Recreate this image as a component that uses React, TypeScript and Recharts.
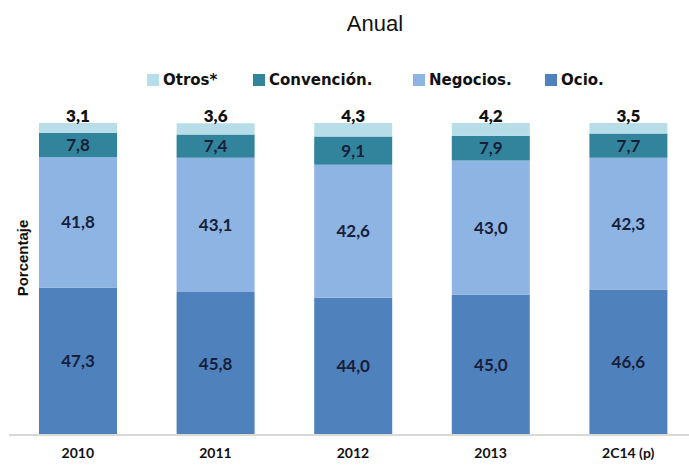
import { BarChart, Bar, XAxis, YAxis, LabelList } from "recharts";

const years = ["2010", "2011", "2012", "2013", "2C14 (p)"];
const ocio = [47.3, 45.8, 44.0, 45.0, 46.6];
const negocios = [41.8, 43.1, 42.6, 43.0, 42.3];
const convencion = [7.8, 7.4, 9.1, 7.9, 7.7];
const otros = [3.1, 3.6, 4.3, 4.2, 3.5];

const legendItems = [
  { name: "Otros*", color: "#B7DEE8", x: 147 },
  { name: "Convención.", color: "#31849B", x: 253 },
  { name: "Negocios.", color: "#8DB4E2", x: 413 },
  { name: "Ocio.", color: "#4F81BD", x: 545 },
];

const data = years.map((y, i) => ({
  year: y,
  ocio: ocio[i],
  negocios: negocios[i],
  convencion: convencion[i],
  otros: otros[i],
}));

const fmt = (v: unknown) => Number(v).toFixed(1).replace(".", ",");
const font = "Lato, 'Open Sans', sans-serif";
const labelStyle = { fontSize: 17, fontWeight: 700, fill: "#17203a", fontFamily: font };

export default function App() {
  return (
    <div style={{ position: "absolute", left: 0, top: 0, width: 689, height: 467, background: "#fff", overflow: "hidden" }}>
      <div style={{ position: "absolute", left: 0, top: 11, width: 750, textAlign: "center", fontFamily: "'Liberation Sans', Arial, sans-serif", fontSize: 22, color: "#111" }}>
        Anual
      </div>
      {legendItems.map((it) => (
        <div key={it.name} style={{ position: "absolute", left: it.x, top: 70, height: 20, display: "flex", alignItems: "center", fontFamily: "'DejaVu Sans', sans-serif", fontWeight: 700, fontSize: 15, color: "#111", whiteSpace: "nowrap" }}>
          <span style={{ width: 12, height: 12, background: it.color, marginRight: 4, display: "inline-block" }} />
          {it.name}
        </div>
      ))}
      <div style={{ position: "absolute", left: 22, top: 258, transform: "translate(-50%, -50%) rotate(-90deg)", fontFamily: "'Liberation Sans', Arial, sans-serif", fontWeight: 700, fontSize: 15, color: "#111", whiteSpace: "nowrap" }}>
        Porcentaje
      </div>
      <BarChart
        width={697}
        height={467}
        data={data}
        barSize={78}
        margin={{ top: 123, right: 0, bottom: 0, left: 9 }}
      >
        <YAxis hide domain={[0, 100]} allowDataOverflow />
        <XAxis
          dataKey="year"
          height={32}
          tickLine={false}
          axisLine={{ stroke: "#d9d9d9", strokeWidth: 2 }}
          tick={{ fontSize: 14, fontWeight: 700, fill: "#111", fontFamily: font, dy: 5 }}
        />
        <Bar dataKey="ocio" stackId="a" fill="#4F81BD" isAnimationActive={false}>
          <LabelList dataKey="ocio" position="center" formatter={fmt} style={labelStyle} />
        </Bar>
        <Bar dataKey="negocios" stackId="a" fill="#8DB4E2" isAnimationActive={false}>
          <LabelList dataKey="negocios" position="center" formatter={fmt} style={labelStyle} />
        </Bar>
        <Bar dataKey="convencion" stackId="a" fill="#31849B" isAnimationActive={false}>
          <LabelList dataKey="convencion" position="center" formatter={fmt} style={labelStyle} />
        </Bar>
        <Bar dataKey="otros" stackId="a" fill="#B7DEE8" isAnimationActive={false}>
          <LabelList dataKey="otros" position="top" offset={1} formatter={fmt} style={{ ...labelStyle, fontWeight: 800, fill: "#111" }} />
        </Bar>
      </BarChart>
    </div>
  );
}
